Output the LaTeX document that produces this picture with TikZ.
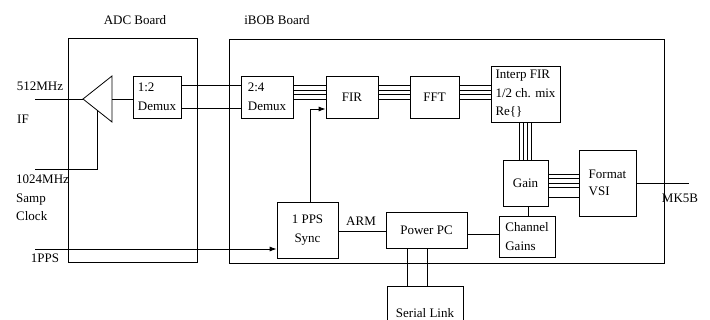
\documentclass[tikz,border=0pt]{standalone}
\usepackage{fontspec}
\setmainfont{Liberation Serif}
\usetikzlibrary{arrows.meta,calc}
\begin{document}
\begin{tikzpicture}[x=1pt,y=-1pt,
  every node/.style={font=\fontsize{13}{18.5}\selectfont},
  box/.style={draw, line width=0.8pt, inner sep=0pt, align=left},
  ln/.style={line width=0.8pt},
  arr/.style={line width=0.8pt, -{Latex[length=7pt,width=5pt]}},
  lbl/.style={inner sep=0pt}]
\useasboundingbox (0,0) rectangle (710,320);
\clip (0,0) rectangle (710,320);
% boards
\node[box, minimum width=129, minimum height=224] (adc) at (132.5,150) {};
\node[box, minimum width=435, minimum height=224] (ibob) at (446.5,151) {};
\node[lbl] (adcl) at (135,20) {ADC Board};
\node[lbl] (ibobl) at (277,20) {iBOB Board};
% blocks
\node[box, minimum width=48, minimum height=42] (dmx1) at (157,97) {1:2\\Demux};
\node[box, minimum width=52, minimum height=42] (dmx2) at (267,97) {2:4\\Demux};
\node[box, minimum width=52, minimum height=42] (fir) at (352,97) {FIR};
\node[box, minimum width=49, minimum height=42] (fft) at (434.5,97) {FFT};
\node[box, minimum width=69, minimum height=56] (interp) at (525.5,94) {Interp FIR\\1/2 ch. mix\\Re\{\}};
\node[box, minimum width=45, minimum height=46] (gain) at (525.5,183) {Gain};
\node[box, minimum width=57, minimum height=66] (fmt) at (607.5,183) {\raisebox{6pt}{\begin{tabular}{@{}l@{}}Format\\[-1.5pt]VSI\end{tabular}}};
\node[box, minimum width=56, minimum height=41] (chg) at (527,236.5) {Channel\\Gains};
\node[box, minimum width=61, minimum height=56, align=center] (sync) at (307.5,230) {1 PPS\\Sync};
\node[box, minimum width=81, minimum height=36] (ppc) at (426.5,230) {Power PC};
\node[box, minimum width=76, minimum height=54] (ser) at (425,313) {Serial Link};
% amplifier triangle
\coordinate (tip) at (83,99);
\coordinate (tt) at (112,76);
\coordinate (tbm) at (112,122);
\coordinate (tmid) at (112,99);
\draw[ln, line join=miter] (tip) -- (tt) -- (tbm) -- cycle;
% inputs
\coordinate (ifin) at (35,99);
\coordinate (clkin) at (35,169);
\coordinate (clk) at (97,110.1);
\coordinate (ppsin) at (35,249);
\coordinate (mk5b) at (689,183);
\node[lbl] (l512) at (40,86) {512MHz};
\node[lbl, anchor=west] (lif) at (17,119) {IF};
\node[lbl, anchor=north west, align=left] (lclk) at (16,175) {1024MHz\\Samp\\Clock};
\node[lbl] (lpps) at (45,258) {1PPS};
\node[lbl] (lmk) at (680,198) {MK5B};
\node[lbl] (larm) at (361,221) {ARM};
\draw[ln] (ifin) -- (tip);
\draw[ln] (clkin) -| (clk);
\draw[ln] (tmid) -- (dmx1.west |- tmid);
% demux1 -> demux2
\foreach \y in {85,108} \draw[ln] (dmx1.east |- 0,\y) -- (dmx2.west |- 0,\y);
% buses
\foreach \y in {85.5,90,94.5,99} {
  \draw[ln] (dmx2.east |- 0,\y) -- (fir.west |- 0,\y);
  \draw[ln] (fir.east |- 0,\y) -- (fft.west |- 0,\y);
  \draw[ln] (fft.east |- 0,\y) -- (interp.west |- 0,\y);
}
\foreach \x in {519.5,523.5,527.5,531.5}
  \draw[ln] (interp.south -| \x,0) -- (gain.north -| \x,0);
\foreach \y in {174,178.5,183,187.5,197}
  \draw[ln] (gain.east |- 0,\y) -- (fmt.west |- 0,\y);
\draw[ln] (gain.south -| 528,0) -- (chg.north -| 528,0);
\draw[ln] (fmt.east) -- (mk5b);
% 1PPS and control
\draw[arr] (ppsin) -- (sync.west |- ppsin);
\draw[arr] ($(sync.north)+(2.5,0)$) |- (fir.west |- 0,109);
\draw[ln] (sync.east |- 0,231) -- (ppc.west |- 0,231);
\draw[ln] (ppc.east |- 0,234) -- (chg.west |- 0,234);
\foreach \x in {407,427} \draw[ln] (ppc.south -| \x,0) -- (ser.north -| \x,0);
\end{tikzpicture}
\end{document}
